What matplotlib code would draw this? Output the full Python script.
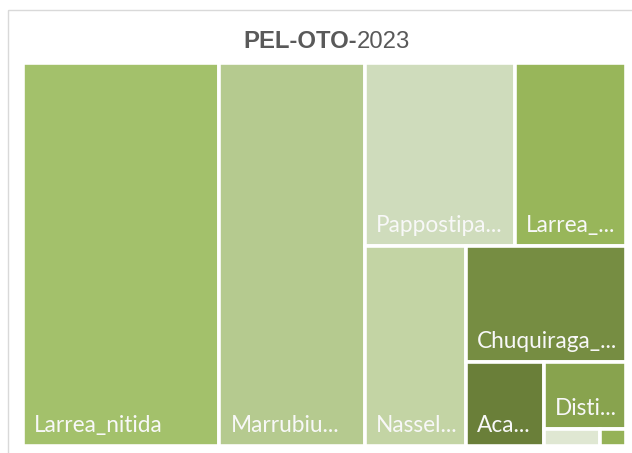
import matplotlib.pyplot as plt
from matplotlib.patches import Rectangle

# share of each species (percent of total cover)
labels = ["Larrea_nitida", "Marrubiu...", "Pappostipa...", "Larrea_...", "Nassel...",
          "Chuquiraga_...", "Aca...", "Disti...", "", ""]
values = [32.55, 24.2, 11.88, 8.77, 8.72, 8.02, 2.85, 2.39, 0.42, 0.19]
colors = ["#a3c16b", "#b5ca8f", "#cfdcbc", "#98b65a", "#c3d4a4",
          "#768d42", "#6a7f39", "#88a34e", "#dfe7d2", "#95b257"]
# how many items go into each strip of the treemap
strips = [1, 1, 2, 1, 1, 1, 1, 1, 1]


def treemap(vals, x, y, w, h, strips):
    scale = w * h / sum(vals)
    areas = [v * scale for v in vals]
    rects = []
    i = 0
    for n in strips:
        group = areas[i:i + n]
        s = sum(group)
        if w >= h:
            cw = s / h
            yy = y
            for a in group:
                rh = a / cw
                rects.append((x, yy, cw, rh))
                yy += rh
            x += cw
            w -= cw
        else:
            rh = s / w
            xx = x
            for a in group:
                cw = a / rh
                rects.append((xx, y, cw, rh))
                xx += cw
            y += rh
            h -= rh
        i += n
    return rects


W, H = 632, 453
fig = plt.figure(figsize=(W / 100, H / 100), dpi=100)
ax = fig.add_axes([0, 0, 1, 1])
ax.set_xlim(0, W)
ax.set_ylim(H, 0)
ax.axis("off")

# outer chart frame
ax.add_patch(Rectangle((8, 10), 700, 500, fill=False, edgecolor="#d9d9d9", lw=1))

x0, y0, x1, y1 = 23.3, 63.3, 625.7, 445.8
rects = treemap(values, x0, y0, x1 - x0, y1 - y0, strips)
for (rx, ry, rw, rh), lab, c in zip(rects, labels, colors):
    ax.add_patch(Rectangle((rx, ry), rw, rh, facecolor=c, edgecolor="white", lw=2.6))
    if lab:
        ax.text(rx + 11, ry + rh - 14, lab, color="#f8f8f8", fontsize=16.3,
                family="Lato", va="baseline", ha="left")

t1 = ax.text(243, 48, "PEL-OTO-", fontsize=17.2, fontweight="bold", color="#595959",
             family="Liberation Sans", va="baseline", ha="left")
ax.annotate("2023", xy=(1, 0), xycoords=t1, fontsize=17.2, color="#595959",
            family="Liberation Sans", va="bottom", ha="left")

fig.savefig("out.png", dpi=100)
